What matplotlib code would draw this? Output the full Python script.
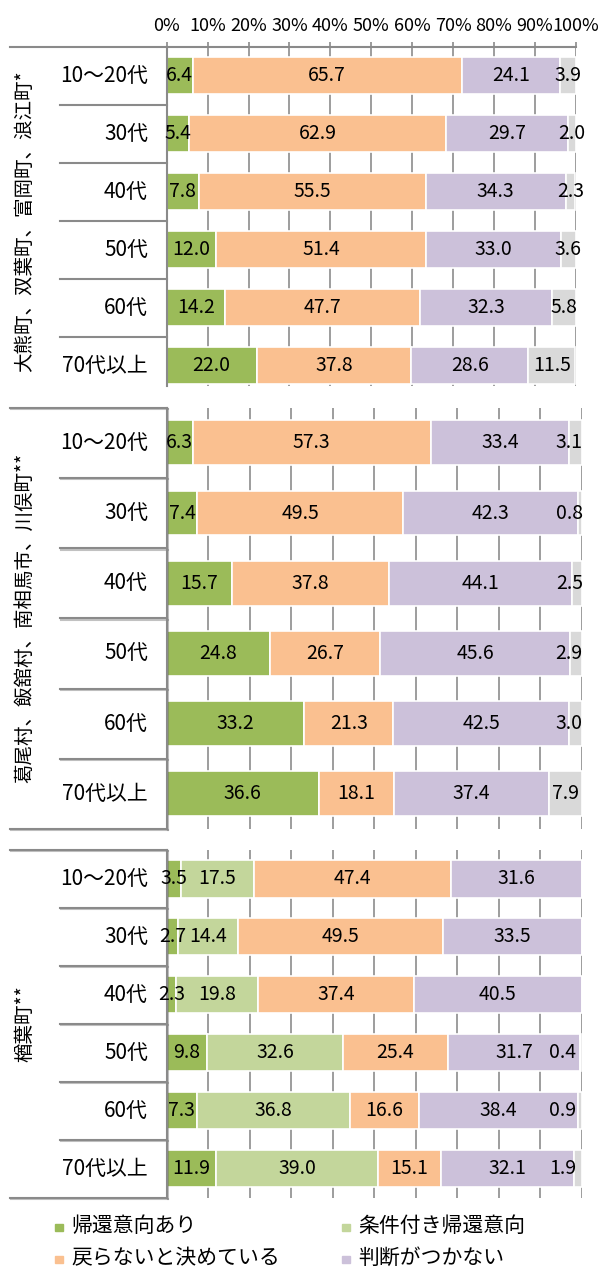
import matplotlib
matplotlib.use("Agg")
import matplotlib.pyplot as plt
import matplotlib.patheffects as pe
from matplotlib.patches import Rectangle
from matplotlib.transforms import blended_transform_factory

plt.rcParams['font.family'] = ['Noto Sans CJK JP', 'DejaVu Sans']

W, H = 601, 1267

# --- data ---
ages = ['10～20代', '30代', '40代', '50代', '60代', '70代以上']
group_names = ['大熊町、双葉町、富岡町、浪江町*',
               '葛尾村、飯舘村、南相馬市、川俣町**',
               '楢葉町**']
categories = ['帰還意向あり', '条件付き帰還意向', '戻らないと決めている', '判断がつかない', '無回答']
colors = ['#9BBB59', '#C3D69B', '#FAC090', '#CCC1DA', '#D9D9D9']

# group 1
g1_kikan = [6.4, 5.4, 7.8, 12.0, 14.2, 22.0]
g1_jouken = [0, 0, 0, 0, 0, 0]
g1_modoranai = [65.7, 62.9, 55.5, 51.4, 47.7, 37.8]
g1_handan = [24.1, 29.7, 34.3, 33.0, 32.3, 28.6]
g1_mukaitou = [3.9, 2.0, 2.3, 3.6, 5.8, 11.5]

# group 2
g2_kikan = [6.3, 7.4, 15.7, 24.8, 33.2, 36.6]
g2_jouken = [0, 0, 0, 0, 0, 0]
g2_modoranai = [57.3, 49.5, 37.8, 26.7, 21.3, 18.1]
g2_handan = [33.4, 42.3, 44.1, 45.6, 42.5, 37.4]
g2_mukaitou = [3.1, 0.8, 2.5, 2.9, 3.0, 7.9]

# group 3
g3_kikan = [3.5, 2.7, 2.3, 9.8, 7.3, 11.9]
g3_jouken = [17.5, 14.4, 19.8, 32.6, 36.8, 39.0]
g3_modoranai = [47.4, 49.5, 37.4, 25.4, 16.6, 15.1]
g3_handan = [31.6, 33.5, 40.5, 31.7, 38.4, 32.1]
g3_mukaitou = [0, 0, 0, 0.4, 0.9, 1.9]

groups = [
    [g1_kikan, g1_jouken, g1_modoranai, g1_handan, g1_mukaitou],
    [g2_kikan, g2_jouken, g2_modoranai, g2_handan, g2_mukaitou],
    [g3_kikan, g3_jouken, g3_modoranai, g3_handan, g3_mukaitou],
]

# layout in pixels: left, right, top, bottom, bottom ylim
boxes = [
    (166.7, 575.7, 46.7, 386.0, 5.35),
    (166.7, 581.7, 407.7, 829.0, 5.5),
    (166.7, 581.7, 850.0, 1197.7, 5.5),
]
label_cap = [99.0, 97.0, 95.4]

frame_c = '#8a8a8a'
grid_c = '#8c8c8c'

fig = plt.figure(figsize=(W / 100, H / 100), dpi=100)

for gi, (series, box) in enumerate(zip(groups, boxes)):
    l, r, t, b, ybot = box
    ax = fig.add_axes([l / W, 1 - b / H, (r - l) / W, (b - t) / H])
    ax.set_xlim(0, 100)
    ax.set_ylim(ybot, -0.5)
    ax.set_axisbelow(True)
    ax.set_xticks(range(0, 101, 10))
    ax.grid(axis='x', color=grid_c, lw=1.2)
    ax.set_yticks([])

    shadow = [pe.SimpleLineShadow(offset=(1.0, -1.0), shadow_color='#666666', alpha=0.4), pe.Normal()] if gi > 0 else []

    for s in ['right', 'bottom']:
        ax.spines[s].set_visible(False)
    ax.spines['left'].set_color(frame_c)
    ax.spines['left'].set_linewidth(1.5)
    if gi == 0:
        ax.xaxis.tick_top()
        ax.spines['top'].set_color(frame_c)
        ax.spines['top'].set_linewidth(1.5)
        ax.set_xticklabels([f'{v}%' for v in range(0, 101, 10)], fontsize=13)
        ax.tick_params(axis='x', direction='out', length=3.3, width=1.2,
                       color=frame_c, pad=5)
    else:
        ax.spines['top'].set_visible(False)
        ax.tick_params(axis='x', top=False, bottom=False,
                       labeltop=False, labelbottom=False)
        ax.spines['left'].set_path_effects(shadow)

    y = list(range(len(ages)))
    left = [0.0] * len(ages)
    for ci, vals in enumerate(series):
        ax.barh(y, vals, left=left, height=0.64, color=colors[ci],
                edgecolor='white', linewidth=1.2)
        for i, v in enumerate(vals):
            if v <= 0:
                continue
            cx = left[i] + v / 2
            if ci == 4:
                cx = min(cx, label_cap[gi])
            ax.text(cx, i, f'{v:.1f}', ha='center', va='center',
                    fontsize=14, clip_on=False)
        left = [a + v for a, v in zip(left, vals)]

    tr = blended_transform_factory(fig.transFigure, ax.transData)
    ax.plot([10 / W, l / W], [-0.5, -0.5], transform=tr, clip_on=False,
            color=frame_c, lw=1.5, path_effects=shadow or None)
    for k in range(len(ages) - 1):
        ax.plot([60 / W, l / W], [k + 0.5, k + 0.5], transform=tr,
                clip_on=False, color=frame_c, lw=1.5,
                path_effects=shadow or None)
    if gi > 0:
        ax.plot([10 / W, l / W], [5.5, 5.5], transform=tr, clip_on=False,
                color=frame_c, lw=1.5, path_effects=shadow)
    for i, a in enumerate(ages):
        ax.text(148 / W, i, a, transform=tr, ha='right', va='center',
                fontsize=15)
    ax.text(25 / W, 2.5, group_names[gi], transform=tr, rotation=90,
            ha='center', va='center', fontsize=14)

# legend
leg_items = [(0, 55, 1227), (2, 55, 1259), (1, 342, 1227), (3, 342, 1259)]
for ci, x, yc in leg_items:
    fig.add_artist(Rectangle((x / W, 1 - (yc + 4) / H), 7.5 / W, 7.5 / H,
                             transform=fig.transFigure, color=colors[ci]))
    fig.text((x + 16) / W, 1 - (yc - 1) / H, categories[ci], ha='left',
             va='center', fontsize=15)

fig.savefig('out.png', dpi=100)
